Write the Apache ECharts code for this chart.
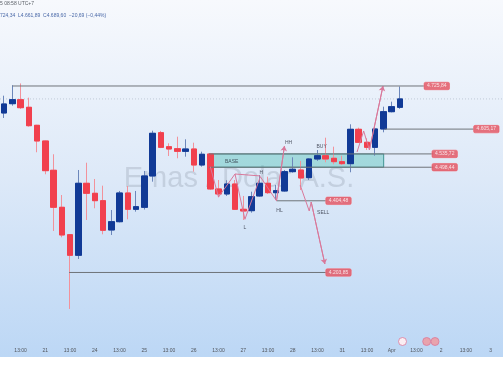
<!DOCTYPE html>
<html>
<head>
<meta charset="utf-8">
<script src="https://cdn.jsdelivr.net/npm/echarts@6/dist/echarts.min.js"></script>
<style>
html,body{margin:0;padding:0;background:#ffffff;}
#c{width:503px;height:378px;}
</style>
</head>
<body>
<div id="c"></div>
<script>
// ---- data (4H candles) ----
const categories = [
 '03-20 05:00','03-20 09:00','03-20 13:00','03-20 17:00','03-20 21:00',
 '03-21 01:00','03-21 05:00','03-21 09:00','03-21 13:00','03-21 17:00','03-21 21:00',
 '03-24 01:00','03-24 05:00','03-24 09:00','03-24 13:00','03-24 17:00','03-24 21:00',
 '03-25 01:00','03-25 05:00','03-25 09:00','03-25 13:00','03-25 17:00','03-25 21:00',
 '03-26 01:00','03-26 05:00','03-26 09:00','03-26 13:00','03-26 17:00','03-26 21:00',
 '03-27 01:00','03-27 05:00','03-27 09:00','03-27 13:00','03-27 17:00','03-27 21:00',
 '03-28 01:00','03-28 05:00','03-28 09:00','03-28 13:00','03-28 17:00','03-28 21:00',
 '03-31 01:00','03-31 05:00','03-31 09:00','03-31 13:00','03-31 17:00','03-31 21:00',
 '04-01 01:00','04-01 05:00','04-01 09:00','04-01 13:00','04-01 17:00','04-01 21:00',
 '04-02 01:00','04-02 05:00','04-02 09:00','04-02 13:00','04-02 17:00','04-02 21:00',
 '04-03 01:00','04-03 05:00'
];
const opens  = [4650.3,4676.3,4687.5,4666.2,4615.8,4571.9,4489.9,4386.3,4309.6,4252.0,4453.5,4425.5,4404.8,4322.8,4346.0,4426.3,4380.7,4386.3,4474.0,4595.1,4555.9,4550.3,4543.0,4549.5,4504.7,4535.5,4437.6,4423.6,4451.5,4380.7,4376.8,4418.0,4453.5,4427.2,4432.0,4486.0,4490.7,4469.2,4521.5,4530.7,4523.5,4514.0,4508.4,4604.6,4568.2,4554.2,4605.5,4653.9,4666.2];
const closes = [4675.5,4687.5,4665.1,4614.7,4571.9,4488.8,4386.3,4308.8,4252.0,4453.5,4425.5,4404.8,4322.0,4346.0,4426.3,4380.7,4388.0,4474.0,4593.4,4554.2,4549.5,4543.0,4549.5,4504.7,4534.7,4437.6,4423.6,4451.5,4380.7,4376.0,4416.0,4453.5,4427.2,4432.8,4486.0,4492.7,4468.3,4521.5,4530.7,4521.5,4514.0,4508.4,4604.6,4568.2,4554.2,4605.5,4653.9,4667.9,4689.6];
const lows   = [4636.3,4670.7,4661.5,4612.0,4540.3,4478.7,4320.0,4302.3,4101.7,4241.6,4350.8,4383.5,4310.7,4308.8,4344.0,4352.7,4374.0,4380.0,4458.0,4552.0,4529.9,4523.5,4528.0,4486.0,4500.0,4435.0,4414.3,4418.0,4378.7,4350.8,4371.2,4416.0,4423.6,4406.7,4430.0,4483.2,4434.7,4462.7,4516.0,4512.3,4506.7,4504.7,4484.3,4567.0,4546.7,4530.7,4596.2,4652.0,4661.89];
const highs  = [4698.7,4728.0,4733.0,4693.1,4617.0,4573.0,4534.7,4420.7,4311.0,4490.7,4511.1,4465.5,4446.8,4378.7,4432.0,4445.9,4432.0,4488.0,4600.7,4600.0,4565.4,4583.9,4576.6,4567.1,4542.0,4538.0,4462.7,4462.0,4462.7,4418.0,4430.0,4476.7,4472.0,4448.7,4490.7,4526.2,4516.0,4524.0,4546.7,4581.1,4556.0,4530.7,4618.6,4609.1,4579.4,4609.1,4667.9,4681.9,4724.34];
const lastPrice = 4689.60;
const monthNames = {'03':'Mar','04':'Apr'};

// ---- drawn annotations (in data space: candle index, price) ----
const levelPrices   = [4725.84, 4605.17, 4535.72, 4498.44, 4404.48, 4203.85];
const levelStartIdx = [1, 46.15, 24.85, 24.85, 33.03, 7.88];
const levelEndIdx   = [50.96, 56.98, 52.05, 52.05, 39.05, 39.05];
const levelLabelIdx = [52.47, 58.48, 53.43, 53.43, 40.55, 40.55];
const baseZone = [24.85, 46.03, 4535.72, 4498.44];
const pathA = [[25, 4500], [26, 4415], [28, 4479.5], [29.2, 4352.7], [31.07, 4472], [33.03, 4404.48], [34.0, 4557.9]];
const pathH = [[28, 4479.5], [31.07, 4474]];
const pathB = [[35.9, 4448.7], [37.0, 4376], [37.24, 4401.1], [38.9, 4227.6]];
const pathC = [[42.8, 4541.1], [43.6, 4599.9], [44.3, 4546.7], [45.95, 4725.84]];
const noteTexts = ['BASE', 'L', 'H', 'HL', 'HH', 'BUY', 'SELL'];
const noteIdx   = [27.6, 29.2, 31.2, 33.4, 34.5, 38.5, 38.7];
const notePrice = [4514, 4328.4, 4484, 4376.8, 4567.1, 4555.9, 4372.3];

function fmt(v){
  const s = v.toFixed(2).split('.');
  return s[0].replace(/\B(?=(\d{3})+(?!\d))/g, '.') + ',' + s[1];
}

const UP = '#113a96', DOWN = '#f1404e';
const UPW = '#6c87bb', DOWNW = '#f2929b';
const PINK = '#d9789a';
const FONT = 'Liberation Sans';

const wickData = opens.map((o, i) => [o, closes[i], lows[i], highs[i]]);
const bodyData = opens.map((o, i) => [o, closes[i], Math.min(o, closes[i]), Math.max(o, closes[i])]);

const series = [];
series.push({
  type: 'candlestick', xAxisIndex: 0, yAxisIndex: 0, data: wickData, barWidth: 6, silent: true, z: 3,
  itemStyle: {color: UP, color0: DOWN, borderColor: UPW, borderColor0: DOWNW, borderWidth: 1}
});
series.push({
  type: 'candlestick', xAxisIndex: 0, yAxisIndex: 0, data: bodyData, barWidth: 6, silent: true, z: 4,
  itemStyle: {color: UP, color0: DOWN, borderColor: UP, borderColor0: DOWN, borderWidth: 1}
});
// last price dotted line
series.push({
  type: 'line', xAxisIndex: 1, yAxisIndex: 0, data: [[-0.5, lastPrice], [60.5, lastPrice]],
  symbol: 'none', silent: true, z: 2, lineStyle: {color: 'rgba(120,130,150,0.35)', width: 1, type: [1, 2]}
});
// level lines
levelPrices.forEach((p, k) => {
  const s = {
    type: 'line', xAxisIndex: 1, yAxisIndex: 0, data: [[levelStartIdx[k], p], [levelEndIdx[k], p]],
    symbol: 'none', silent: true, z: 5, lineStyle: {color: '#6f7479', width: 1}
  };
  if (k === 2) {
    s.markArea = {
      silent: true,
      itemStyle: {color: 'rgba(88,196,186,0.45)', borderColor: 'rgba(50,140,135,0.9)', borderWidth: 1},
      data: [[{coord: [baseZone[0], baseZone[2]]}, {coord: [baseZone[1], baseZone[3]]}]]
    };
  }
  series.push(s);
});
// zigzag paths
function pathSeries(pts, arrow) {
  const s = {
    type: 'line', xAxisIndex: 1, yAxisIndex: 0, data: pts, symbol: 'none', silent: true, z: 6,
    lineStyle: {color: PINK, width: 1}
  };
  if (arrow) {
    const a = pts[pts.length - 2], b = pts[pts.length - 1];
    s.markLine = {
      silent: true, symbol: ['none', 'arrow'], symbolSize: 5, label: {show: false},
      lineStyle: {color: PINK, width: 1, type: 'solid'},
      data: [[{coord: a}, {coord: b}]]
    };
  }
  return s;
}
series.push(pathSeries(pathA, true));
series.push(pathSeries(pathH, false));
series.push(pathSeries(pathB, true));
series.push(pathSeries(pathC, true));
// price tags
series.push({
  type: 'scatter', xAxisIndex: 1, yAxisIndex: 0, symbolSize: 1, silent: true, z: 8,
  itemStyle: {color: 'rgba(0,0,0,0)'},
  data: levelPrices.map((p, k) => [levelLabelIdx[k], p]),
  label: {show: true, position: 'inside', formatter: (d) => fmt(d.value[1]),
    color: '#ffffff', fontSize: 5, fontFamily: FONT, backgroundColor: '#e4505e',
    borderColor: '#f08a94', borderWidth: 0.5, borderRadius: 1.5, padding: [1.5, 3, 1, 3]}
});
// notes
series.push({
  type: 'scatter', xAxisIndex: 1, yAxisIndex: 0, symbolSize: 1, silent: true, z: 8,
  itemStyle: {color: 'rgba(0,0,0,0)'},
  data: noteTexts.map((t, k) => ({name: t, value: [noteIdx[k], notePrice[k]]})),
  label: {show: true, position: 'inside', formatter: (d) => d.name, color: '#2c3140', fontSize: 5, fontFamily: FONT}
});

const chart = echarts.init(document.getElementById('c'), null, {renderer: 'canvas'});
chart.setOption({
  animation: false,
  backgroundColor: '#ffffff',
  grid: {left: -0.66, top: 2.33, width: 506.9, height: 342.97, containLabel: false},
  xAxis: [
    {type: 'category', data: categories, boundaryGap: true,
     axisLine: {show: false}, axisTick: {show: false}, splitLine: {show: false},
     axisLabel: {
       margin: 3, fontSize: 5, color: '#50555c', fontFamily: FONT,
       interval: (i, v) => v.endsWith('13:00') || v.endsWith('01:00'),
       formatter: (v) => {
         const [md, hm] = v.split(' ');
         if (hm === '13:00') return '13:00';
         const [m, d] = md.split('-');
         return d === '01' ? monthNames[m] : String(parseInt(d, 10));
       }
     }},
    {type: 'value', min: -0.5, max: 60.5, show: false}
  ],
  yAxis: [{type: 'value', min: 4000, max: 4960, show: false, splitLine: {show: false}}],
  graphic: [
    {type: 'rect', z: -100, silent: true, shape: {x: 0, y: 0, width: 503, height: 357},
     style: {fill: new echarts.graphic.LinearGradient(0, 0, 0, 1, [
       {offset: 0, color: '#f7f9fd'}, {offset: 0.5, color: '#dde9f8'}, {offset: 1, color: '#bcd7f5'}])}},
    {type: 'text', z: 1, silent: true, left: 'center', x: 0, style: {text: ''}},
    {type: 'text', z: 1, silent: true, x: 239, y: 179,
     style: {text: 'Emas / Dolar A.S.', font: '29px "Liberation Sans"', fill: 'rgba(110,120,135,0.22)', textAlign: 'center', textVerticalAlign: 'middle'}},
    {type: 'text', z: 20, silent: true, x: 0, y: 1,
     style: {text: '5 08:58 UTC+7', font: '5px "Liberation Sans"', fill: '#5a5f66'}},
    {type: 'text', z: 20, silent: true, x: 0, y: 13,
     style: {text: '724,34  L4.661,89  C4.689,60  \u221220,69 (\u22120,44%)', font: '5px "Liberation Sans"', fill: '#4a69a8'}},
    {type: 'circle', z: 20, silent: true, shape: {cx: 402.5, cy: 341.5, r: 4}, style: {fill: '#fbeef3', stroke: '#d9789a', lineWidth: 0.8}},
    {type: 'circle', z: 20, silent: true, shape: {cx: 426.7, cy: 341.5, r: 4}, style: {fill: '#e8a3ad', stroke: '#d9789a', lineWidth: 0.8}},
    {type: 'circle', z: 21, silent: true, shape: {cx: 435, cy: 341.5, r: 4}, style: {fill: '#e8a3ad', stroke: '#d9789a', lineWidth: 0.8}}
  ],
  series: series
});
</script>
</body>
</html>
